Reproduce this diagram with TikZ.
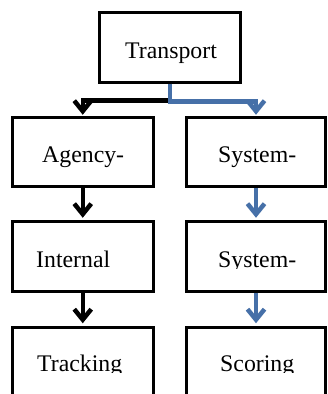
\documentclass[tikz,border=0pt]{standalone}
\usepackage{fontspec}
\setmainfont{Liberation Serif}
\usetikzlibrary{arrows.meta}
\definecolor{linkblue}{HTML}{4670A8}
\begin{document}
\begin{tikzpicture}[x=1pt,y=1pt,
  box/.style={draw=black,line width=3pt,rectangle,minimum width=140.5pt,minimum height=69.5pt,inner sep=0pt,fill=none},
  lbl/.style={anchor=base west,inner sep=0pt,font=\fontsize{23.8}{28}\selectfont},
  conn/.style={line width=4.5pt,-{Straight Barb[length=10.5pt,width=17pt]}},
  blk/.style={conn,draw=black},
  blu/.style={conn,draw=linkblue}]
\clip (0,0) rectangle (327,-394);
\fill[white] (0,0) rectangle (327,-394);
% boxes
\node[box] (T)  at (169.75,-47.25) {};
\node[box] (A)  at (82.75,-152) {};
\node[box,minimum width=139pt] (S1) at (256,-152) {};
\node[box] (I)  at (82.75,-256.5) {};
\node[box,minimum width=139pt] (S2) at (256,-256.5) {};
\node[box] (Tr) at (82.75,-362) {};
\node[box,minimum width=139pt] (Sc) at (256,-362) {};
% labels
\node[lbl] (tT) at (125,-58.5) {Transport};
\node[lbl] (tA) at (42,-162) {Agency-};
\node[lbl] (tS1) at (218,-162) {System-};
\begin{scope}
\clip (0,-222) rectangle (327,-268);
\node[lbl] (tI) at (36,-267) {Internal};
\node[lbl] (tS2) at (218,-267) {System-};
\end{scope}
\begin{scope}
\clip (0,-327) rectangle (327,-372);
\node[lbl] (tTr) at (37,-371) {Tracking};
\node[lbl] (tSc) at (220,-371) {Scoring};
\end{scope}
% connectors
\draw[blk,shorten >=1pt] (T.south) -- ++(0,-17) -| (A.north);
\draw[blu,shorten >=1pt] (T.south) -- ++(0,-18) -| (S1.north);
\draw[blk,shorten >=2.5pt] (A.south) -- (I.north);
\draw[blu,shorten >=2.5pt] (S1.south) -- (S2.north);
\draw[blk,shorten >=2.5pt] (I.south) -- (Tr.north);
\draw[blu,shorten >=2.5pt] (S2.south) -- (Sc.north);
\end{tikzpicture}
\end{document}
